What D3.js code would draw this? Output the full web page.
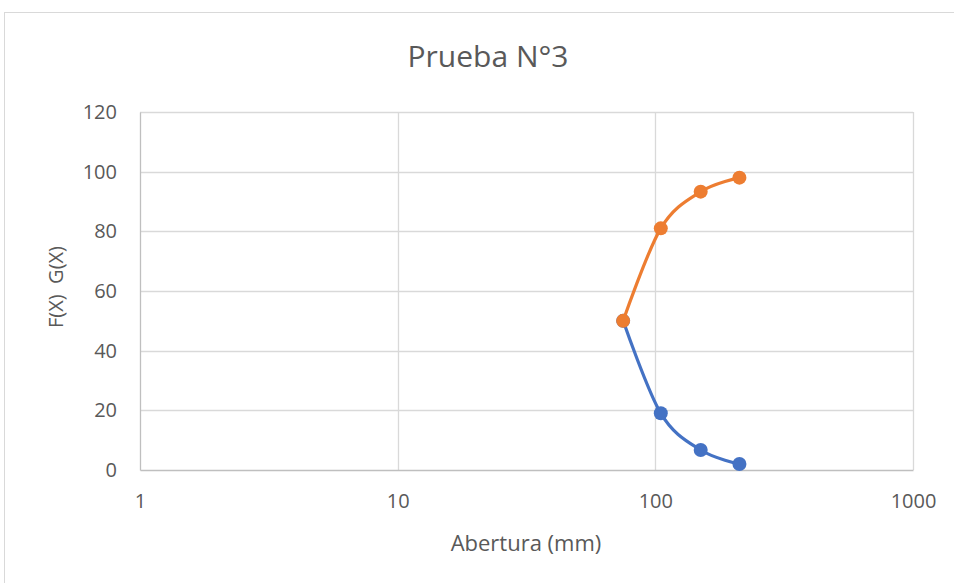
<!DOCTYPE html>
<html>
<head>
<meta charset="utf-8">
<script src="https://cdn.jsdelivr.net/npm/d3@7"></script>
<style>
  html, body { margin: 0; padding: 0; background: #fff; }
  svg { display: block; font-family: "Open Sans", "Noto Sans", sans-serif; }
</style>
</head>
<body>
<svg id="chart" width="954" height="583"></svg>
<script>
// Sieve openings (mm) and cumulative curves
const abertura = [75, 105, 150, 212];
const fx = [50, 19, 6.7, 2];        // F(X)
const gx = [50, 81, 93.3, 98];      // G(X)
const xTicks = [1, 10, 100, 1000];
const yTicks = [0, 20, 40, 60, 80, 100, 120];

const svg = d3.select("#chart");
const margin = { left: 140, right: 41, top: 112, bottom: 113 };
const W = 954, H = 583;
const textColor = "#595959";

// outer chart frame
svg.append("rect")
  .attr("x", 4.5).attr("y", 12.5)
  .attr("width", 980).attr("height", 620)
  .attr("fill", "#fff").attr("stroke", "#d9d9d9");

const x = d3.scaleLog().domain([1, 1000]).range([margin.left, W - margin.right]);
const y = d3.scaleLinear().domain([0, 120]).range([H - margin.bottom, margin.top]);

// gridlines
svg.append("g").selectAll("line").data(yTicks.filter(d => d > 0)).join("line")
  .attr("x1", x(1)).attr("x2", x(1000))
  .attr("y1", d => Math.round(y(d)) + 0.5).attr("y2", d => Math.round(y(d)) + 0.5)
  .attr("stroke", "#d9d9d9").attr("stroke-width", 1.3);
svg.append("g").selectAll("line").data(xTicks.filter(d => d > 1)).join("line")
  .attr("x1", d => Math.round(x(d)) + 0.5).attr("x2", d => Math.round(x(d)) + 0.5)
  .attr("y1", y(0)).attr("y2", y(120))
  .attr("stroke", "#d9d9d9").attr("stroke-width", 1.3);

// axes
const yAxis = d3.axisLeft(y).tickValues(yTicks).tickSize(0).tickPadding(23);
const gy = svg.append("g").attr("transform", `translate(${x(1)},0)`).call(yAxis);
gy.select(".domain").attr("stroke", "#bfbfbf").attr("stroke-width", 1.3);

const xAxis = d3.axisBottom(x).tickValues(xTicks).tickFormat(d3.format("d")).tickSize(0).tickPadding(24);
const gxAxis = svg.append("g").attr("transform", `translate(0,${y(0)})`).call(xAxis);
gxAxis.select(".domain").attr("stroke", "#bfbfbf").attr("stroke-width", 1.3);

svg.selectAll(".tick text")
  .attr("fill", textColor).attr("font-size", 20)
  .attr("font-family", "'Open Sans', 'Noto Sans', sans-serif");

// titles
svg.append("text").attr("x", 488).attr("y", 67).attr("text-anchor", "middle")
  .attr("fill", textColor).attr("font-size", 30).text("Prueba N°3");
svg.append("text").attr("x", 526).attr("y", 551).attr("text-anchor", "middle")
  .attr("fill", textColor).attr("font-size", 22).text("Abertura (mm)");
svg.append("text").attr("transform", "translate(63,287) rotate(-90)").attr("text-anchor", "middle")
  .attr("fill", textColor).attr("font-size", 20).attr("xml:space", "preserve").text("F(X)  G(X)");

// series
const series = [
  { name: "F(X)", values: fx, color: "#4472C4" },
  { name: "G(X)", values: gx, color: "#ED7D31" }
];
const line = d3.line()
  .x(d => x(d[0])).y(d => y(d[1]))
  .curve(d3.curveCatmullRom.alpha(0));

series.forEach(s => {
  const pts = abertura.map((a, i) => [a, s.values[i]]);
  svg.append("path").datum(pts)
    .attr("d", line).attr("fill", "none")
    .attr("stroke", s.color).attr("stroke-width", 3.2)
    .attr("stroke-linejoin", "round").attr("stroke-linecap", "round");
  svg.append("g").selectAll("circle").data(pts).join("circle")
    .attr("cx", d => x(d[0])).attr("cy", d => y(d[1])).attr("r", 7)
    .attr("fill", s.color);
});
</script>
</body>
</html>
